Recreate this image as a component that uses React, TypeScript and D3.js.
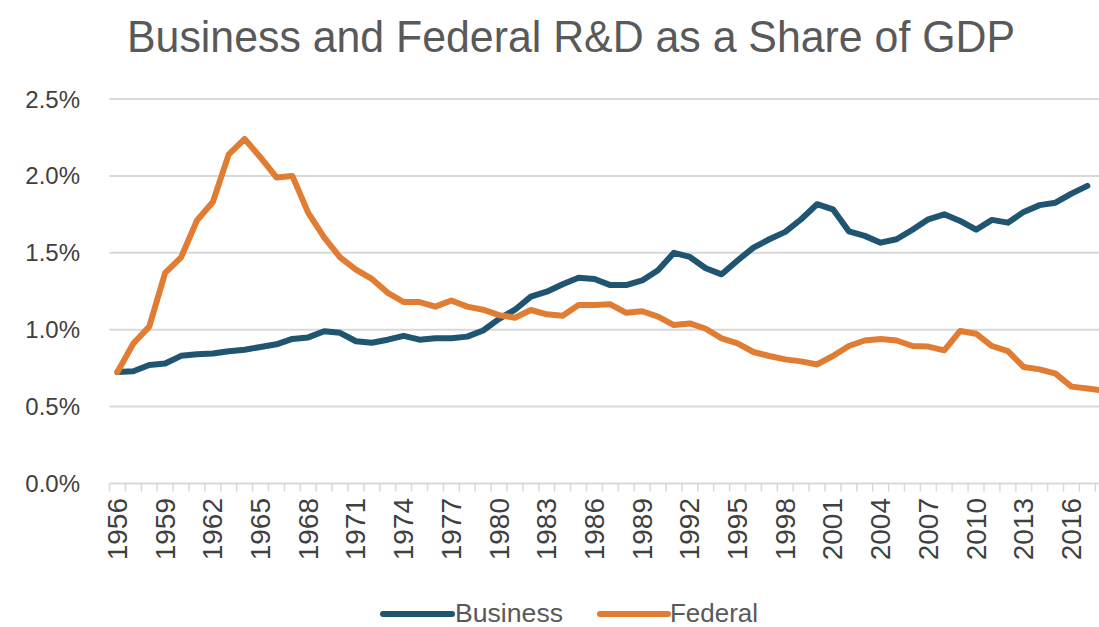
import React from "react";
import * as d3 from "d3";

const years: number[] = d3.range(1956, 2019);

const business: (number | null)[] = [
  0.725, 0.73, 0.77, 0.78, 0.83, 0.84, 0.845, 0.86, 0.87, 0.887,
  0.905, 0.94, 0.95, 0.99, 0.98, 0.925, 0.915, 0.935, 0.96, 0.935,
  0.945, 0.945, 0.955, 0.995, 1.07, 1.13, 1.215, 1.247, 1.295, 1.338,
  1.33, 1.29, 1.29, 1.32, 1.386, 1.5, 1.473, 1.4, 1.36, 1.45,
  1.534, 1.588, 1.636, 1.718, 1.816, 1.783, 1.64, 1.61, 1.566, 1.588,
  1.65, 1.718, 1.75, 1.707, 1.65, 1.714, 1.696, 1.766, 1.81, 1.826,
  1.885, 1.935, null,
];

const federal: (number | null)[] = [
  0.725, 0.91, 1.02, 1.37, 1.47, 1.71, 1.83, 2.14, 2.24, 2.12,
  1.99, 2.0, 1.76, 1.6, 1.47, 1.39, 1.33, 1.24, 1.18, 1.18,
  1.15, 1.19, 1.15, 1.13, 1.095, 1.078, 1.128, 1.1, 1.091, 1.16,
  1.16, 1.165, 1.11, 1.12, 1.085, 1.03, 1.041, 1.006, 0.944, 0.911,
  0.855, 0.829, 0.807, 0.794, 0.774, 0.829, 0.894, 0.93, 0.94, 0.93,
  0.894, 0.89, 0.866, 0.992, 0.974, 0.894, 0.861, 0.757, 0.742, 0.714,
  0.63, 0.618, 0.605,
];

const yTicks: number[] = [0, 0.5, 1.0, 1.5, 2.0, 2.5];
const labelYears: number[] = d3.range(1956, 2017, 3);

const seriesNames = ["Business", "Federal"];
const colors = ["#1F5570", "#E07D33"];

const W = 1099;
const H = 627;
const narrow = "'Liberation Sans Narrow', 'Arial Narrow', 'Liberation Sans', Arial, sans-serif";
const sans = "'Liberation Sans', Arial, sans-serif";

export default function App() {
  const x = d3.scaleBand<number>().domain(years).range([109.5, 109.5 + 63 * 15.9]).padding(0);
  const y = d3.scaleLinear().domain([0, 2.5]).range([483.5, 99]);
  const bw = x.bandwidth();

  const mkLine = (vals: (number | null)[]) =>
    d3
      .line<number>()
      .defined((_, i) => vals[i] != null)
      .x((yr) => (x(yr) as number) + bw / 2)
      .y((_, i) => y(vals[i] as number))(years) as string;

  const series = [business, federal];
  const gridColor = "#D9D9D9";

  return (
    <div style={{ position: "absolute", left: 0, top: 0 }}>
      <svg width={W} height={H} style={{ display: "block", background: "#fff", overflow: "hidden" }}>
        <text
          x={571}
          y={52}
          textAnchor="middle"
          fontFamily={narrow}
          fontSize={44}
          fill="#595959"
          textLength={888}
          lengthAdjust="spacingAndGlyphs"
        >
          Business and Federal R&amp;D as a Share of GDP
        </text>

        {yTicks.slice(1).map((t) => (
          <line key={t} x1={109.5} x2={W} y1={y(t)} y2={y(t)} stroke={gridColor} strokeWidth={2} />
        ))}
        {yTicks.map((t) => (
          <text
            key={"l" + t}
            x={80}
            y={y(t) + 8.5}
            textAnchor="end"
            fontFamily={sans}
            fontSize={24}
            fill="#404040"
          >
            {t.toFixed(1) + "%"}
          </text>
        ))}

        <line x1={109.5} x2={W} y1={y(0)} y2={y(0)} stroke={gridColor} strokeWidth={2} />
        {years.map((yr) => (
          <line
            key={"t" + yr}
            x1={x(yr) as number}
            x2={x(yr) as number}
            y1={y(0)}
            y2={y(0) + 8}
            stroke={gridColor}
            strokeWidth={1.5}
          />
        ))}
        {labelYears.map((yr) => {
          const cx = (x(yr) as number) + bw / 2 + 9.5;
          return (
            <text
              key={"x" + yr}
              transform={`translate(${cx},${498}) rotate(-90)`}
              textAnchor="end"
              fontFamily={sans}
              fontSize={28}
              fill="#404040"
            >
              {String(yr)}
            </text>
          );
        })}

        {series.map((vals, i) => (
          <path
            key={seriesNames[i]}
            d={mkLine(vals)}
            fill="none"
            stroke={colors[i]}
            strokeWidth={6}
            strokeLinejoin="round"
            strokeLinecap="round"
          />
        ))}

        {[
          { x0: 383, x1: 452, tx: 455, tl: 108 },
          { x0: 600, x1: 668, tx: 670, tl: 88 },
        ].map((p, i) => (
          <g key={"leg" + i}>
            <line x1={p.x0} x2={p.x1} y1={614} y2={614} stroke={colors[i]} strokeWidth={6} strokeLinecap="round" />
            <text
              x={p.tx}
              y={622}
              fontFamily={narrow}
              fontSize={26}
              fill="#595959"
              textLength={p.tl}
              lengthAdjust="spacingAndGlyphs"
            >
              {seriesNames[i]}
            </text>
          </g>
        ))}
      </svg>
    </div>
  );
}
